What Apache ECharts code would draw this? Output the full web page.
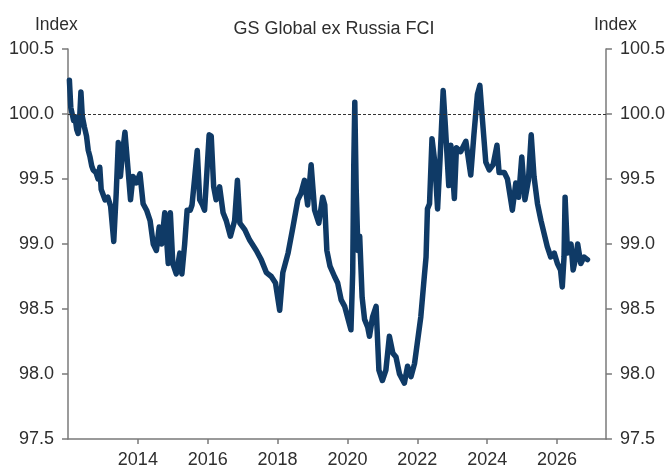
<!DOCTYPE html>
<html>
<head>
<meta charset="utf-8">
<title>GS Global ex Russia FCI</title>
<script src="https://cdn.jsdelivr.net/npm/echarts@6.0.0/dist/echarts.min.js"></script>
<style>
	html, body { margin: 0; padding: 0; background: #fff; }
	#fciChart { width: 668px; height: 476px; }
</style>
</head>
<body>
<div id="fciChart"></div>
<script>
// 时间(年, 小数) 与指数值
var fciYears = [
	2012.04, 2012.08, 2012.12, 2012.16, 2012.20, 2012.25, 2012.29, 2012.33, 2012.37, 2012.41,
	2012.47, 2012.53, 2012.58, 2012.63, 2012.68, 2012.72, 2012.80, 2012.86, 2012.91, 2012.95,
	2013.06, 2013.14, 2013.22, 2013.31, 2013.38, 2013.44, 2013.50, 2013.56, 2013.63, 2013.72,
	2013.79, 2013.86, 2013.96, 2014.06, 2014.15, 2014.25, 2014.35, 2014.44, 2014.53, 2014.61,
	2014.68, 2014.77, 2014.87, 2014.93, 2015.00, 2015.10, 2015.20, 2015.26, 2015.34, 2015.41,
	2015.50, 2015.55, 2015.63, 2015.70, 2015.77, 2015.85, 2015.91, 2015.98, 2016.04, 2016.10,
	2016.17, 2016.24, 2016.34, 2016.44, 2016.53, 2016.65, 2016.77, 2016.85, 2016.92, 2017.06,
	2017.20, 2017.39, 2017.53, 2017.68, 2017.82, 2017.94, 2018.06, 2018.15, 2018.30, 2018.44,
	2018.58, 2018.67, 2018.77, 2018.86, 2018.96, 2019.06, 2019.18, 2019.29, 2019.35, 2019.41,
	2019.50, 2019.63, 2019.72, 2019.82, 2019.92, 2020.00, 2020.10, 2020.15, 2020.18, 2020.21,
	2020.25, 2020.30, 2020.35, 2020.42, 2020.49, 2020.58, 2020.63, 2020.72, 2020.82, 2020.90,
	2021.00, 2021.10, 2021.20, 2021.30, 2021.39, 2021.49, 2021.63, 2021.72, 2021.82, 2021.92,
	2022.00, 2022.10, 2022.20, 2022.25, 2022.29, 2022.35, 2022.42, 2022.50, 2022.58, 2022.65,
	2022.74, 2022.80, 2022.90, 2022.96, 2023.06, 2023.12, 2023.24, 2023.39, 2023.53, 2023.62,
	2023.72, 2023.79, 2023.86, 2023.96, 2024.06, 2024.17, 2024.28, 2024.34, 2024.49, 2024.58,
	2024.68, 2024.72, 2024.82, 2024.90, 2024.99, 2025.08, 2025.18, 2025.26, 2025.34, 2025.44,
	2025.54, 2025.63, 2025.72, 2025.82, 2025.92, 2026.01, 2026.10, 2026.15, 2026.20, 2026.23,
	2026.30, 2026.40, 2026.46, 2026.54, 2026.59, 2026.68, 2026.77, 2026.87
];
var fciValues = [
	100.26, 100.05, 100.00, 99.95, 99.98, 99.88, 99.85, 99.95, 100.17, 99.98,
	99.90, 99.83, 99.72, 99.67, 99.60, 99.57, 99.55, 99.50, 99.59, 99.42,
	99.34, 99.36, 99.29, 99.02, 99.39, 99.78, 99.52, 99.70, 99.86, 99.57,
	99.34, 99.52, 99.47, 99.54, 99.31, 99.26, 99.18, 99.00, 98.95, 99.13,
	99.00, 99.24, 98.85, 99.24, 98.85, 98.77, 98.93, 98.77, 99.00, 99.26,
	99.26, 99.30, 99.52, 99.72, 99.34, 99.30, 99.26, 99.57, 99.84, 99.83,
	99.44, 99.34, 99.44, 99.24, 99.18, 99.06, 99.18, 99.49, 99.16, 99.11,
	99.03, 98.95, 98.88, 98.78, 98.75, 98.70, 98.49, 98.78, 98.93, 99.13,
	99.34, 99.39, 99.49, 99.30, 99.61, 99.26, 99.16, 99.36, 99.30, 98.95,
	98.83, 98.75, 98.70, 98.57, 98.52, 98.44, 98.34, 98.78, 99.59, 100.09,
	99.42, 98.95, 99.06, 98.59, 98.42, 98.36, 98.29, 98.44, 98.52, 98.03,
	97.95, 98.03, 98.29, 98.16, 98.13, 98.00, 97.93, 98.06, 97.98, 98.08,
	98.24, 98.44, 98.75, 98.90, 99.27, 99.31, 99.81, 99.63, 99.27, 99.65,
	100.18, 99.92, 99.45, 99.76, 99.35, 99.74, 99.71, 99.79, 99.53, 99.84,
	100.15, 100.22, 99.97, 99.63, 99.57, 99.61, 99.76, 99.55, 99.55, 99.50,
	99.33, 99.26, 99.47, 99.36, 99.67, 99.34, 99.49, 99.84, 99.52, 99.31,
	99.18, 99.08, 98.98, 98.90, 98.93, 98.85, 98.80, 98.67, 98.90, 99.36,
	98.93, 99.00, 98.80, 98.90, 99.00, 98.85, 98.90, 98.88
];
// 坐标轴刻度
var xTickYears = [2014, 2016, 2018, 2020, 2022, 2024, 2026];
var yTicks = [97.5, 98.0, 98.5, 99.0, 99.5, 100.0, 100.5];
var baseLine = 100.0;

function buildSeriesData(xs, ys) {
	var data = [];
	for (var i = 0; i < xs.length; i++) {
		data.push([xs[i], ys[i]]);
	}
	return data;
}

function yAxisOption(side) {
	return {
		type: 'value',
		position: side,
		min: yTicks[0],
		max: yTicks[yTicks.length - 1],
		interval: 0.5,
		axisLine: { show: true, lineStyle: { color: '#7a7a7a', width: 1.5 } },
		axisTick: { show: true, inside: false, length: 6, lineStyle: { color: '#7a7a7a', width: 1.5 } },
		axisLabel: {
			margin: 14,
			color: '#2e2e2e',
			fontSize: 18,
			fontFamily: 'Liberation Sans',
			formatter: function (v) { return v.toFixed(1); }
		},
		splitLine: { show: false }
	};
}

function drawFci(dom) {
	var myChart = echarts.init(dom, null, { renderer: 'canvas' });
	var txt = { fill: '#2e2e2e', fontSize: 17.5, fontFamily: 'Liberation Sans' };

	var option = {
		animation: false,
		backgroundColor: '#ffffff',
		title: {
			text: 'GS Global ex Russia FCI',
			left: 'center',
			top: 15,
			textStyle: { color: '#2e2e2e', fontSize: 18, fontWeight: 'normal', fontFamily: 'Liberation Sans' }
		},
		graphic: [
			{ type: 'text', left: 35, top: 16, style: { text: 'Index', fill: txt.fill, fontSize: txt.fontSize, fontFamily: txt.fontFamily } },
			{ type: 'text', left: 594, top: 16, style: { text: 'Index', fill: txt.fill, fontSize: txt.fontSize, fontFamily: txt.fontFamily } }
		],
		grid: { left: 68, right: 62, top: 49, bottom: 37, containLabel: false },
		xAxis: {
			type: 'value',
			min: 2012,
			max: 2027.4,
			interval: 2,
			axisLine: { show: true, onZero: false, lineStyle: { color: '#7a7a7a', width: 1.5 } },
			axisTick: { show: true, inside: false, length: 5, lineStyle: { color: '#7a7a7a', width: 1.5 } },
			axisLabel: {
				margin: 12,
				color: '#2e2e2e',
				fontSize: 18,
				fontFamily: 'Liberation Sans',
				showMinLabel: false,
				showMaxLabel: false,
				formatter: function (v) {
					return xTickYears.indexOf(v) >= 0 ? String(v) : '';
				}
			},
			splitLine: { show: false }
		},
		yAxis: [yAxisOption('left'), yAxisOption('right')],
		series: [
			{
				name: 'GS Global ex Russia FCI',
				type: 'line',
				data: buildSeriesData(fciYears, fciValues),
				showSymbol: false,
				symbol: 'none',
				lineStyle: { color: '#0f3a66', width: 5.5, join: 'round', cap: 'round' },
				z: 3,
				markLine: {
					silent: true,
					symbol: ['none', 'none'],
					label: { show: false },
					lineStyle: { color: '#333333', type: [3, 2], width: 1 },
					data: [{ yAxis: baseLine }]
				}
			}
		]
	};
	myChart.setOption(option);
}

drawFci(document.getElementById('fciChart'));
</script>
</body>
</html>
